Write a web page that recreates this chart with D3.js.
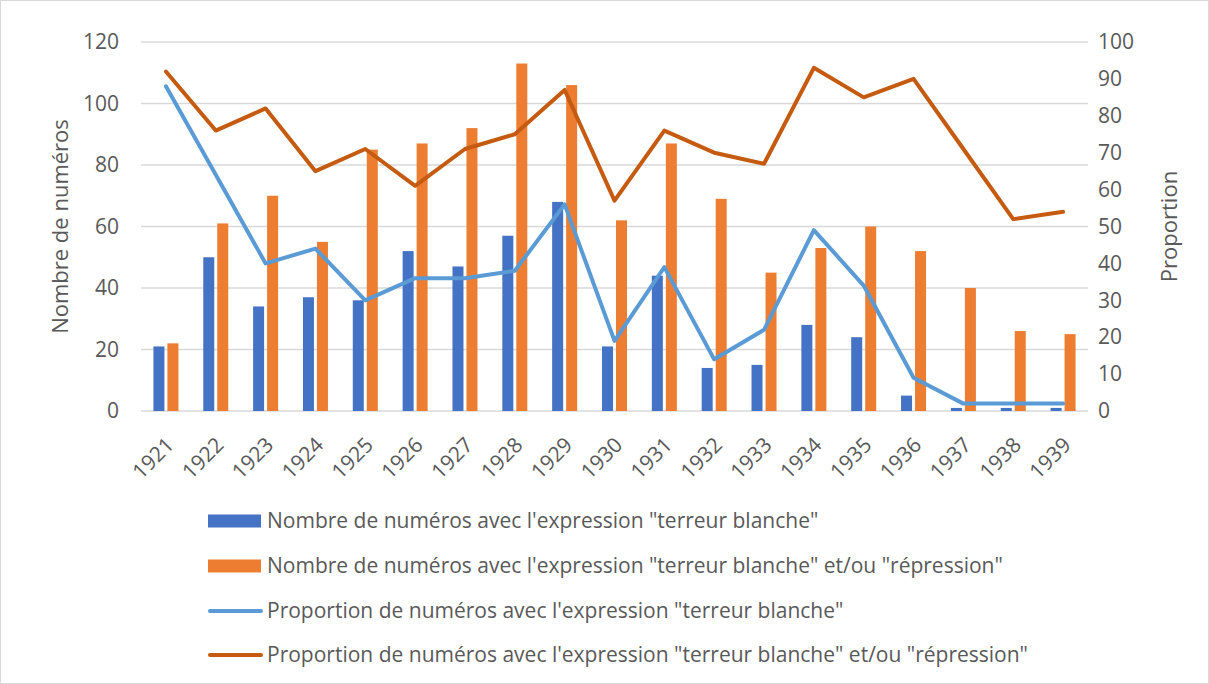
<!DOCTYPE html>
<html>
<head>
<meta charset="utf-8">
<script src="https://cdn.jsdelivr.net/npm/d3@7"></script>
<style>
  body { margin: 0; background: #fff; }
  svg text { font-family: "Open Sans", sans-serif; fill: #595959; }
</style>
</head>
<body>
<div id="chart"></div>
<script>
// Years on the x axis
const years = ["1921", "1922", "1923", "1924", "1925", "1926", "1927", "1928", "1929", "1930",
  "1931", "1932", "1933", "1934", "1935", "1936", "1937", "1938", "1939"];

// Bars (left axis)
const countTerreur = [21, 50, 34, 37, 36, 52, 47, 57, 68, 21, 44, 14, 15, 28, 24, 5, 1, 1, 1];
const countTerreurRepression = [22, 61, 70, 55, 85, 87, 92, 113, 106, 62, 87, 69, 45, 53, 60, 52, 40, 26, 25];

// Lines (right axis)
const propTerreur = [88, 64, 40, 44, 30, 36, 36, 38, 56, 19, 39, 14, 22, 49, 34, 9, 2, 2, 2];
const propTerreurRepression = [92, 76, 82, 65, 71, 61, 71, 75, 87, 57, 76, 70, 67, 93, 85, 90, 71, 52, 54];

const leftTicks = [0, 20, 40, 60, 80, 100, 120];
const rightTicks = [0, 10, 20, 30, 40, 50, 60, 70, 80, 90, 100];

const legendLabels = [
  "Nombre de numéros avec l'expression \"terreur blanche\"",
  "Nombre de numéros avec l'expression \"terreur blanche\" et/ou \"répression\"",
  "Proportion de numéros avec l'expression \"terreur blanche\"",
  "Proportion de numéros avec l'expression \"terreur blanche\" et/ou \"répression\""
];

const width = 1209, height = 684;
const margin = { top: 42, right: 121, bottom: 273, left: 141 };
const colors = { blue: "#4472C4", orange: "#ED7D31", lightBlue: "#5B9BD5", darkOrange: "#C55A11" };

const svg = d3.select("#chart").append("svg")
  .attr("width", width)
  .attr("height", height);

// outer border
svg.append("rect")
  .attr("x", 0.5).attr("y", 0.5)
  .attr("width", width - 1).attr("height", height - 1)
  .attr("fill", "#fff").attr("stroke", "#d9d9d9");

const x = d3.scaleBand()
  .domain(years)
  .range([margin.left, width - margin.right]);

const yLeft = d3.scaleLinear().domain([0, 120]).range([height - margin.bottom, margin.top]);
const yRight = d3.scaleLinear().domain([0, 100]).range([height - margin.bottom, margin.top]);

// gridlines
svg.append("g")
  .selectAll("line")
  .data(leftTicks)
  .enter()
  .append("line")
  .attr("x1", margin.left)
  .attr("x2", width - margin.right)
  .attr("y1", d => yLeft(d))
  .attr("y2", d => yLeft(d))
  .attr("stroke", "#d9d9d9")
  .attr("stroke-width", 1.3);

// left axis
const leftAxis = svg.append("g")
  .attr("transform", `translate(${margin.left - 22},0)`)
  .call(d3.axisLeft(yLeft).tickValues(leftTicks).tickSize(0).tickPadding(0));
leftAxis.select(".domain").remove();
leftAxis.selectAll("text").style("font-size", "21px").attr("fill", "#595959");

// right axis
const rightAxis = svg.append("g")
  .attr("transform", `translate(${width - margin.right + 10},0)`)
  .call(d3.axisRight(yRight).tickValues(rightTicks).tickSize(0).tickPadding(0));
rightAxis.select(".domain").remove();
rightAxis.selectAll("text").style("font-size", "21px").attr("fill", "#595959");

// bars
const barW = 11, gap = 3;
const bars = svg.append("g");
years.forEach((yr, i) => {
  const cx = x(yr) + x.bandwidth() / 2;
  bars.append("rect")
    .attr("x", cx - gap / 2 - barW)
    .attr("y", yLeft(countTerreur[i]))
    .attr("width", barW)
    .attr("height", yLeft(0) - yLeft(countTerreur[i]))
    .attr("fill", colors.blue);
  bars.append("rect")
    .attr("x", cx + gap / 2)
    .attr("y", yLeft(countTerreurRepression[i]))
    .attr("width", barW)
    .attr("height", yLeft(0) - yLeft(countTerreurRepression[i]))
    .attr("fill", colors.orange);
});

// lines
const line = d3.line()
  .x((d, i) => x(years[i]) + x.bandwidth() / 2)
  .y(d => yRight(d));

svg.append("path")
  .datum(propTerreurRepression)
  .attr("d", line)
  .attr("fill", "none")
  .attr("stroke", colors.darkOrange)
  .attr("stroke-width", 4)
  .attr("stroke-linejoin", "round")
  .attr("stroke-linecap", "round");

svg.append("path")
  .datum(propTerreur)
  .attr("d", line)
  .attr("fill", "none")
  .attr("stroke", colors.lightBlue)
  .attr("stroke-width", 4)
  .attr("stroke-linejoin", "round")
  .attr("stroke-linecap", "round");

// x labels, rotated
svg.append("g")
  .selectAll("text")
  .data(years)
  .enter()
  .append("text")
  .attr("transform", d => `translate(${x(d) + x.bandwidth() / 2 + 4},${height - margin.bottom + 30}) rotate(-45)`)
  .attr("text-anchor", "end")
  .attr("dy", "0.35em")
  .style("font-size", "21px")
  .text(d => d);

// axis titles
svg.append("text")
  .attr("transform", `translate(68,${(margin.top + height - margin.bottom) / 2}) rotate(-90)`)
  .attr("text-anchor", "middle")
  .style("font-size", "22px")
  .text("Nombre de numéros");

svg.append("text")
  .attr("transform", `translate(1177,${(margin.top + height - margin.bottom) / 2}) rotate(-90)`)
  .attr("text-anchor", "middle")
  .style("font-size", "22px")
  .text("Proportion");

// legend
const legendY = [521, 566, 611, 655];
const legend = svg.append("g");
legendLabels.forEach((lab, i) => {
  const ly = legendY[i];
  if (i < 2) {
    legend.append("rect")
      .attr("x", 208).attr("y", ly - 6.5)
      .attr("width", 53).attr("height", 13)
      .attr("fill", i === 0 ? colors.blue : colors.orange);
  } else {
    legend.append("line")
      .attr("x1", 210).attr("x2", 261)
      .attr("y1", ly).attr("y2", ly)
      .attr("stroke", i === 2 ? colors.lightBlue : colors.darkOrange)
      .attr("stroke-width", 4)
      .attr("stroke-linecap", "round");
  }
  legend.append("text")
    .attr("x", 267).attr("y", ly)
    .attr("dy", "0.35em")
    .style("font-size", "21px")
    .text(lab);
});
</script>
</body>
</html>
